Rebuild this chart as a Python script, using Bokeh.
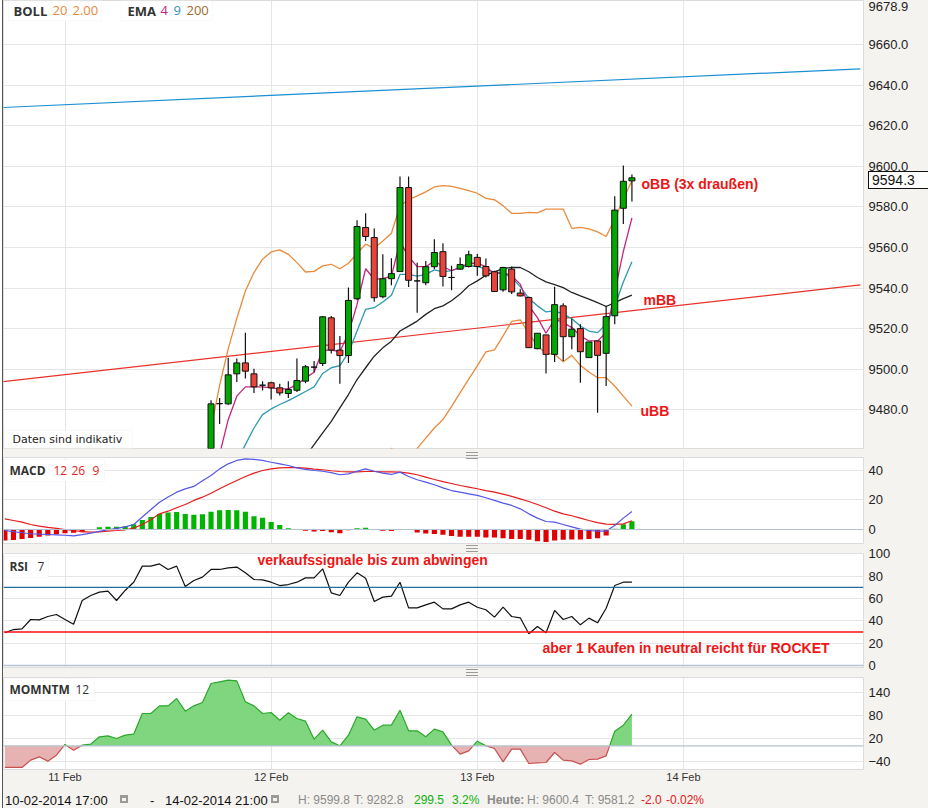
import numpy as np
from bokeh.plotting import figure
from bokeh.layouts import column
from bokeh.models import Range1d, FixedTicker, PrintfTickFormatter, Span, Label, BoxAnnotation, Div
from bokeh.embed import file_html
from bokeh.resources import INLINE

# ---------------- data ----------------
# x = hours since 11-02-2014 00:00 ; the series starts 10-02-2014 17:00 (x = -7)
day_ticks = [0, 24, 48, 72]
day_labels = ["11 Feb", "12 Feb", "13 Feb", "14 Feb"]

# visible hourly candles 11-02 17:00 .. 13-02 18:00
candle_x = list(range(17, 67))
c_open = [9455.0, 9483.0, 9482.9, 9497.7, 9503.1, 9497.7, 9492.1, 9493.3, 9490.8, 9488.0,
          9489.6, 9494.1, 9501.0, 9502.8, 9525.3, 9509.4, 9506.7, 9534.7, 9569.8, 9564.9,
          9535.7, 9544.6, 9548.1, 9589.5, 9543.5, 9542.6, 9550.5, 9557.9, 9545.2, 9549.3,
          9550.6, 9555.1, 9550.6, 9548.0, 9539.1, 9549.3, 9537.5, 9535.3, 9510.1, 9516.9,
          9507.3, 9531.2, 9516.0, 9520.0, 9505.7, 9513.9, 9507.8, 9526.3, 9579.3, 9592.8]
c_high = [9484.7, 9485.8, 9505.6, 9505.3, 9517.9, 9500.2, 9494.0, 9493.8, 9492.8, 9494.0,
          9505.3, 9502.0, 9504.0, 9526.2, 9526.2, 9516.3, 9540.2, 9573.4, 9576.9, 9569.3,
          9556.6, 9554.7, 9595.0, 9595.0, 9552.5, 9553.3, 9564.0, 9562.1, 9551.0, 9555.0,
          9558.4, 9556.7, 9554.6, 9548.5, 9550.5, 9550.6, 9539.4, 9535.8, 9517.7, 9516.9,
          9540.6, 9532.5, 9524.9, 9522.1, 9513.4, 9513.9, 9531.2, 9585.2, 9600.4, 9596.0]
c_low = [9452.0, 9473.0, 9482.5, 9493.7, 9495.4, 9488.3, 9489.5, 9485.0, 9487.0, 9485.8,
         9488.8, 9493.0, 9498.5, 9501.5, 9507.7, 9492.8, 9503.1, 9534.0, 9563.2, 9533.2,
         9535.0, 9541.3, 9548.0, 9540.5, 9527.8, 9541.3, 9549.4, 9540.7, 9538.9, 9549.0,
         9550.1, 9546.0, 9545.2, 9538.3, 9538.1, 9537.0, 9535.8, 9510.6, 9509.8, 9497.9,
         9503.5, 9504.0, 9509.8, 9493.3, 9505.7, 9478.5, 9491.7, 9522.1, 9571.5, 9582.6]
c_close = [9482.9, 9483.0, 9497.2, 9503.1, 9499.0, 9491.3, 9492.1, 9490.8, 9488.3, 9490.0,
           9494.4, 9501.2, 9501.0, 9525.8, 9509.4, 9506.7, 9533.9, 9570.3, 9565.4, 9535.2,
           9544.6, 9547.1, 9589.5, 9543.8, 9543.5, 9550.5, 9557.5, 9545.7, 9545.2, 9551.6,
           9556.4, 9550.6, 9546.0, 9538.3, 9550.1, 9538.1, 9536.1, 9510.6, 9517.7, 9507.3,
           9531.8, 9516.0, 9519.7, 9508.6, 9513.4, 9506.8, 9525.9, 9578.4, 9592.6, 9594.3]
last_price = 9594.3

bb_upper_x = list(range(16, 67))
bb_upper = [9440.0, 9471.0, 9492.0, 9510.0, 9525.0, 9538.5, 9547.6, 9554.2, 9557.8, 9558.8, 9556.6,
            9552.5, 9547.9, 9548.2, 9550.9, 9551.7, 9549.5, 9552.2, 9557.1, 9561.6, 9559.6,
            9563.2, 9567.0, 9580.5, 9583.5, 9585.4, 9587.4, 9589.8, 9590.5, 9590.1, 9589.1,
            9588.0, 9586.7, 9584.2, 9583.5, 9580.6, 9576.8, 9576.8, 9577.3, 9577.0, 9578.9,
            9578.9, 9578.9, 9569.4, 9569.9, 9569.1, 9567.7, 9565.4, 9574.0, 9583.9, 9592.9]
bb_lower_x = list(range(37, 67))
bb_lower = [9455.0, 9461.0, 9457.0, 9456.0, 9461.0, 9466.0, 9471.0, 9475.2, 9481.5, 9488.4,
            9495.1, 9501.6, 9508.5, 9509.5, 9516.4, 9523.5, 9524.3, 9517.7, 9511.4, 9507.8,
            9507.3, 9503.7, 9506.8, 9501.9, 9498.6, 9495.8, 9495.8, 9491.7, 9486.7, 9481.8]
bb_mid_x = list(range(28, 67))
bb_mid = [9457.0, 9462.8, 9468.6, 9474.3, 9480.9, 9487.5, 9494.9, 9500.7, 9506.4, 9510.5,
          9513.8, 9518.8, 9521.2, 9523.7, 9527.0, 9529.8, 9531.2, 9533.7, 9537.0, 9541.1,
          9543.5, 9546.3, 9548.0, 9549.6, 9550.1, 9550.1, 9548.0, 9545.2, 9543.0, 9541.7,
          9540.2, 9537.8, 9536.1, 9534.5, 9532.8, 9530.9, 9532.8, 9534.8, 9536.5]
ema4_x = list(range(18, 67))
ema4 = [9458.0, 9475.1, 9486.7, 9491.3, 9491.3, 9491.3, 9490.8, 9490.3, 9490.3, 9492.4,
        9495.7, 9498.5, 9509.4, 9509.4, 9508.7, 9517.6, 9531.9, 9549.5, 9544.3, 9544.6,
        9545.9, 9562.7, 9555.5, 9550.5, 9550.5, 9553.3, 9550.6, 9548.5, 9550.1, 9552.3,
        9552.1, 9550.6, 9546.8, 9547.7, 9546.0, 9541.9, 9531.2, 9525.4, 9517.7, 9524.6,
        9523.0, 9520.5, 9516.4, 9513.9, 9513.9, 9518.0, 9538.0, 9558.0, 9574.6]
ema9_x = list(range(20, 67))
ema9 = [9455.0, 9462.8, 9471.0, 9477.6, 9480.4, 9482.6, 9484.5, 9486.7, 9489.0, 9491.3,
        9497.9, 9500.7, 9501.8, 9508.1, 9518.8, 9529.5, 9530.3, 9533.1, 9536.4, 9546.7,
        9546.7, 9545.9, 9546.7, 9548.9, 9548.0, 9548.6, 9550.0, 9550.9, 9550.6, 9549.3,
        9547.7, 9547.3, 9545.2, 9540.7, 9534.8, 9531.2, 9528.2, 9528.7, 9527.1, 9524.9,
        9521.3, 9518.8, 9518.0, 9522.1, 9531.0, 9543.0, 9553.0]
trend_x = [-7.5, 92.6]
trend_blue = [9628.9, 9648.0]
trend_red = [9493.7, 9541.5]

# indicators for every hour 10-02 17:00 .. 13-02 18:00
ind_x = list(range(-7, 67))
macd_line = [-0.7, -1.5, -2.2, -2.9, -3.2, -3.4, -3.6, -3.9, -4.3, -3.5,
             -2.5, -1.3, -0.2, 0.8, 1.8, 3.4, 8.5, 13.5, 18.5, 22.0,
             25.3, 27.5, 29.2, 33.0, 36.6, 41.1, 44.5, 46.8, 47.9, 47.5,
             46.8, 45.6, 44.5, 43.4, 41.8, 40.7, 40.0, 39.5, 38.6, 37.1,
             37.7, 39.5, 41.1, 39.5, 38.2, 37.3, 38.9, 35.9, 33.7, 32.1,
             30.3, 28.2, 26.4, 25.3, 24.2, 23.1, 21.5, 19.7, 17.9, 16.3,
             14.0, 10.6, 7.7, 5.4, 5.0, 3.4, 1.8, 0.2, -0.7, -1.1,
             -1.1, 2.7, 7.7, 12.2]
macd_signal = [7.2, 6.1, 5.0, 3.4, 2.3, 1.4, 0.7, 0.0, -0.7, -1.4,
               -1.8, -1.6, -1.1, -0.7, -0.2, 0.9, 3.4, 6.6, 10.6, 12.4,
               14.7, 16.9, 19.7, 21.9, 24.6, 27.6, 30.5, 33.2, 35.9, 38.2,
               40.0, 41.1, 41.8, 42.0, 42.0, 41.6, 40.9, 40.5, 39.8, 39.3,
               39.1, 39.1, 39.3, 39.3, 39.1, 39.1, 38.9, 38.2, 37.1, 35.5,
               33.9, 32.5, 31.2, 29.8, 28.7, 27.6, 26.4, 25.3, 24.0, 22.4,
               20.8, 19.0, 16.9, 14.7, 12.4, 10.6, 9.3, 7.7, 6.1, 4.7,
               3.6, 3.4, 3.8, 5.9]
macd_hist = [-7.5, -7.2, -6.5, -5.8, -5.0, -4.0, -3.2, -2.5, -2.2, -1.8,
             0.3, 1.5, 1.8, 1.8, 2.2, 3.5, 6.5, 8.5, 10.5, 11.5,
             11.8, 10.5, 10.0, 10.3, 12.0, 13.0, 13.2, 13.0, 12.0, 9.0,
             8.0, 5.0, 3.0, 0.8, -0.2, -0.8, -1.3, -1.0, -1.8, -2.5,
             -0.5, 0.8, 1.2, -0.3, -0.8, -1.0, -0.2, 0.2, -2.0, -2.8,
             -3.0, -3.5, -4.5, -5.0, -5.0, -5.0, -5.5, -5.5, -6.0, -6.5,
             -6.5, -7.0, -8.0, -8.5, -7.5, -7.0, -6.8, -6.8, -6.5, -6.0,
             -4.0, 0.5, 3.5, 5.5]
rsi = [29.3, 32.2, 32.8, 41.2, 40.9, 43.9, 45.7, 41.2, 37.0, 58.2,
       62.7, 65.7, 66.6, 58.2, 67.2, 74.6, 89.0, 89.0, 91.0, 86.0,
       89.0, 70.7, 76.1, 79.1, 86.0, 86.0, 87.5, 88.1, 83.0, 77.0,
       76.7, 74.6, 71.6, 72.5, 74.6, 78.5, 78.5, 86.6, 65.1, 62.7,
       74.6, 83.0, 78.2, 57.3, 61.2, 62.1, 74.6, 51.6, 51.6, 54.3,
       56.7, 50.7, 50.7, 54.3, 56.7, 52.2, 49.9, 43.3, 52.2, 43.9,
       42.7, 28.4, 34.9, 29.3, 49.3, 41.2, 43.9, 36.4, 42.4, 38.2,
       51.3, 71.6, 74.6, 74.6]
rsi_upper, rsi_lower = 70, 30
momentum = [-56.3, -56.3, -56.3, -37.2, -28.5, -39.8, -24.2, 3.7, -11.1, 1.9,
            4.5, 23.7, 26.3, 19.3, 28.0, 30.6, 84.5, 84.5, 104.5, 104.5,
            123.7, 90.6, 104.5, 113.2, 162.8, 167.1, 171.5, 169.7, 115.0, 104.5,
            84.5, 87.1, 67.1, 86.3, 71.5, 64.5, 17.6, 41.0, 10.6, 0.2,
            28.0, 75.8, 69.7, 41.0, 54.1, 54.1, 93.2, 39.3, 39.3, 23.7,
            43.7, 36.7, 1.9, -21.6, -12.9, 12.3, 0.2, -6.8, -41.6, -8.5,
            -8.5, -45.9, -44.2, -43.3, -17.2, -37.2, -39.0, -47.7, -35.5, -34.6,
            -25.9, 38.4, 54.1, 82.8]

# ---------------- styling helpers ----------------
BG = "#f5f3ef"
GRID = "#e6e6e6"
ZERO = "#b4c3d2"
AX_FONT = "Liberation Sans"
RED_TXT = "#ee1515"
W = 925
xr = Range1d(-7.16, 92.96)


def hx(px):  # page pixel x -> hours
    return (px - 64.5) / 8.59


def make_fig(height, yr, top, bottom, xaxis=None):
    f = figure(width=W, height=height, x_range=xr, y_range=yr,
               x_axis_location=xaxis, y_axis_location="right",
               toolbar_location=None, output_backend="svg",
               min_border_left=0, min_border_right=65,
               min_border_top=top, min_border_bottom=bottom,
               background_fill_color="white", border_fill_color=BG,
               outline_line_color="#dcdcdc")
    f.xgrid.ticker = FixedTicker(ticks=day_ticks)
    f.grid.grid_line_color = GRID
    ax = f.yaxis[0]
    ax.axis_line_color = None
    ax.major_tick_line_color = None
    ax.minor_tick_line_color = None
    ax.major_tick_out = 0
    ax.major_tick_in = 0
    ax.minor_tick_out = 0
    ax.major_label_text_font = AX_FONT
    ax.major_label_text_font_size = "13px"
    ax.major_label_text_color = "#222222"
    ax.major_label_standoff = 5
    return f


def lab(f, x, y, text, color, size="13px", bold=False, font="Open Sans", **kw):
    f.add_layout(Label(x=x, y=y, text=text, text_color=color, text_font=font,
                       text_font_size=size, text_font_style="bold" if bold else "normal",
                       text_baseline="middle", text_align="left", **kw))


# ---------------- main price panel ----------------
def vy(py):
    return 9600 - (py - 165.7) / 2.03


p1 = make_fig(452, Range1d(9460.9, 9681.7), 0, 4)
p1.yaxis.ticker = FixedTicker(ticks=[9480, 9500, 9520, 9540, 9560, 9580, 9600, 9620, 9640, 9660, 9678.9])
p1.yaxis.formatter = PrintfTickFormatter(format="%.1f")
p1.ygrid.ticker = FixedTicker(ticks=[9480, 9500, 9520, 9540, 9560, 9580, 9600, 9620, 9640, 9660])

p1.line(trend_x, trend_blue, line_color="#1b8fd2", line_width=1.2)
p1.line(trend_x, trend_red, line_color="#e8322a", line_width=1.2)
p1.line(bb_upper_x, bb_upper, line_color="#e98a3c", line_width=1.3)
p1.line(bb_lower_x, bb_lower, line_color="#e98a3c", line_width=1.3)
p1.line(bb_mid_x, bb_mid, line_color="#222222", line_width=1.3)
p1.line(ema9_x, ema9, line_color="#2b9ab0", line_width=1.3)
p1.line(ema4_x, ema4, line_color="#c4267f", line_width=1.3)

c_colors = ["#00a800" if c >= o else "#e8443a" for o, c in zip(c_open, c_close)]
p1.segment(x0=candle_x, y0=c_low, x1=candle_x, y1=c_high, line_color="#111111", line_width=1.2)
p1.vbar(x=candle_x, width=0.7, top=[max(o, c) for o, c in zip(c_open, c_close)],
        bottom=[min(o, c) for o, c in zip(c_open, c_close)],
        fill_color=c_colors, line_color="#111111", line_width=1)

lab(p1, hx(641), vy(183), "oBB (3x draußen)", RED_TXT, "14px", True, AX_FONT)
lab(p1, hx(643), vy(299), "mBB", RED_TXT, "14px", True, AX_FONT)
lab(p1, hx(640), vy(411), "uBB", RED_TXT, "14px", True, AX_FONT)

# legend boxes
p1.add_layout(BoxAnnotation(left=hx(8), right=hx(101), top=vy(0), bottom=vy(20),
                            fill_color="white", fill_alpha=1, line_color="#ececec"))
p1.add_layout(BoxAnnotation(left=hx(121), right=hx(212), top=vy(0), bottom=vy(20),
                            fill_color="white", fill_alpha=1, line_color="#ececec"))
lab(p1, hx(13), vy(10), "BOLL", "#333333", bold=True)
lab(p1, hx(52), vy(10), "20", "#e98a3c")
lab(p1, hx(72), vy(10), "2.00", "#e98a3c")
lab(p1, hx(127), vy(10), "EMA", "#333333", bold=True)
lab(p1, hx(160), vy(10), "4", "#c4267f")
lab(p1, hx(173), vy(10), "9", "#2b9ab0")
lab(p1, hx(186), vy(10), "200", "#9a6b2a")

p1.add_layout(BoxAnnotation(left=hx(4), right=hx(132), top=vy(430), bottom=vy(448),
                            fill_color="white", fill_alpha=1, line_color="#ececec"))
lab(p1, hx(12), vy(439), "Daten sind indikativ", "#222222", "11px", False, "DejaVu Sans")

# ---------------- MACD ----------------
def my(py):
    return (529 - py) / 1.475


p2 = make_fig(94, Range1d(-9.5, 48.8), 5, 3)
p2.yaxis.ticker = FixedTicker(ticks=[0, 20, 40])
p2.ygrid.ticker = FixedTicker(ticks=[20, 40])
p2.add_layout(Span(location=0, dimension="width", line_color=ZERO, line_width=1.2))
hist_colors = ["#00b400" if h >= 0 else "#e00000" for h in macd_hist]
p2.vbar(x=ind_x, width=0.6, top=macd_hist, bottom=0, fill_color=hist_colors, line_color=None)
p2.line(ind_x, macd_signal, line_color="#e51c1c", line_width=1.2)
p2.line(ind_x, macd_line, line_color="#5555e8", line_width=1.2)
p2.add_layout(BoxAnnotation(left=hx(4), right=hx(104), top=my(459), bottom=my(481),
                            fill_color="white", fill_alpha=1, line_color="#ececec"))
lab(p2, hx(9), my(470), "MACD", "#333333", "12px", True)
lab(p2, hx(53), my(470), "12", "#e51c1c", "12px")
lab(p2, hx(71), my(470), "26", "#e51c1c", "12px")
lab(p2, hx(92), my(470), "9", "#e51c1c", "12px")

# ---------------- RSI ----------------
def ry(py):
    return (665 - py) / 1.117


p3 = make_fig(126, Range1d(-1.8, 100.3), 7, 5)
p3.yaxis.ticker = FixedTicker(ticks=[0, 20, 40, 60, 80, 100])
p3.ygrid.ticker = FixedTicker(ticks=[20, 40, 60, 80, 100])
p3.add_layout(Span(location=0, dimension="width", line_color=ZERO, line_width=1.5))
p3.add_layout(Span(location=rsi_upper, dimension="width", line_color="#1f6f9f", line_width=1.4))
p3.add_layout(Span(location=rsi_lower, dimension="width", line_color="#ff1010", line_width=1.4))
p3.line(ind_x, rsi, line_color="#111111", line_width=1.2)
p3.add_layout(BoxAnnotation(left=hx(4), right=hx(48), top=ry(556), bottom=ry(577),
                            fill_color="white", fill_alpha=1, line_color="#ececec"))
lab(p3, hx(9), ry(566), "RSI", "#333333", "12px", True)
lab(p3, hx(37), ry(566), "7", "#333333", "12px")
lab(p3, hx(257), ry(559), "verkaufssignale bis zum abwingen", RED_TXT, "14px", True, AX_FONT)
lab(p3, hx(542), ry(648), "aber 1 Kaufen in neutral reicht für ROCKET", RED_TXT, "14px", True, AX_FONT)

# ---------------- Momentum ----------------
def qy(py):
    return (745.4 - py) / 0.3833


p4 = make_fig(117, Range1d(-61.6, 178.5), 5, 20, xaxis="below")
p4.yaxis.ticker = FixedTicker(ticks=[-40, 20, 80, 140])
p4.ygrid.ticker = FixedTicker(ticks=[-40, 20, 80, 140])
xa = p4.xaxis[0]
xa.ticker = FixedTicker(ticks=day_ticks)
xa.major_label_overrides = dict(zip(day_ticks, day_labels))
xa.axis_line_color = None
xa.major_tick_line_color = None
xa.minor_tick_line_color = None
xa.major_tick_out = 0
xa.major_tick_in = 0
xa.minor_tick_out = 0
xa.major_label_text_font = AX_FONT
xa.major_label_text_font_size = "11px"
xa.major_label_text_color = "#333333"
xa.major_label_standoff = 1

# insert zero crossings so the two fill colours meet exactly on the baseline
mx, mv = [ind_x[0]], [momentum[0]]
for k in range(1, len(ind_x)):
    a, b = momentum[k - 1], momentum[k]
    if a * b < 0:
        t = a / (a - b)
        mx.append(ind_x[k - 1] + t * (ind_x[k] - ind_x[k - 1]))
        mv.append(0.0)
    mx.append(ind_x[k])
    mv.append(b)
mx = np.array(mx, dtype=float)
mv = np.array(mv, dtype=float)
p4.varea(x=mx, y1=0, y2=np.where(mv > 0, mv, 0), fill_color="#7fd67f")
p4.varea(x=mx, y1=0, y2=np.where(mv < 0, mv, 0), fill_color="#e6b2b2")
p4.add_layout(Span(location=0, dimension="width", line_color=ZERO, line_width=1.2))
p4.line(mx, np.where(mv >= 0, mv, np.nan), line_color="#2aa82a", line_width=1.2)
p4.line(mx, np.where(mv <= 0, mv, np.nan), line_color="#c85050", line_width=1.2)
p4.add_layout(BoxAnnotation(left=hx(4), right=hx(94), top=qy(678), bottom=qy(700),
                            fill_color="white", fill_alpha=1, line_color="#ececec"))
lab(p4, hx(9), qy(689), "MOMNTM", "#333333", "12px", True)
lab(p4, hx(75), qy(689), "12", "#333333", "12px")

# ---------------- bottom info bar ----------------
pieces = [
    (0, "10-02-2014 17:00", "#111111", "normal", 13),
    (145, "-", "#111111", "normal", 13),
    (160, "14-02-2014 21:00", "#111111", "normal", 13),
    (293, "H: 9599.8", "#8a8a8a", "normal", 12),
    (349, "T: 9282.8", "#8a8a8a", "normal", 12),
    (409, "299.5", "#10b010", "normal", 12),
    (447, "3.2%", "#10b010", "normal", 12),
    (482, "Heute:", "#8a8a8a", "bold", 12),
    (522, "H: 9600.4", "#8a8a8a", "normal", 12),
    (580, "T: 9581.2", "#8a8a8a", "normal", 12),
    (636, "-2.0", "#e02020", "normal", 12),
    (661, "-0.02%", "#e02020", "normal", 12),
]
html = ['<div style="position:relative;width:925px;height:19px;font-family:\'Liberation Sans\',Arial,sans-serif;">']
for px, t, col, wt, fs in pieces:
    html.append(f'<span style="position:absolute;left:{px - 3}px;top:0px;line-height:13px;'
                f'white-space:nowrap;color:{col};font-weight:{wt};font-size:{fs}px;">{t}</span>')
for px in (115, 266):
    html.append(f'<span style="position:absolute;left:{px - 3}px;top:1px;width:8px;height:8px;'
                'border:2px solid #9a9a9a;border-top-width:3px;"></span>')
html.append('</div>')
bar = Div(text="".join(html), width=W, height=19, styles={"background-color": BG})

# last-price marker on the price axis
price_box = Div(text=f"{last_price:.1f}", width=64, height=18,
                styles={"position": "absolute", "left": "860px", "top": "166px",
                        "background-color": "white", "border": "1px solid #111111",
                        "font-family": "'Liberation Sans', Arial, sans-serif",
                        "font-size": "14px", "line-height": "16px", "color": "#111111",
                        "padding-left": "3px", "box-sizing": "border-box"})

# pane resize grips between the panels
grip_html = ('<div style="width:12px;height:1px;background:#9a9a9a;margin-bottom:2px"></div>'
             '<div style="width:12px;height:1px;background:#9a9a9a;margin-bottom:2px"></div>'
             '<div style="width:12px;height:1px;background:#9a9a9a"></div>')
grips = [Div(text=grip_html, width=12, height=7,
             styles={"position": "absolute", "left": "458px", "top": f"{gy}px"})
         for gy in (442, 535, 659)]

layout = column(p1, p2, p3, p4, bar, price_box, *grips, spacing=0,
                styles={"margin": "0 0 0 3px", "box-shadow": "-1px 0 0 #555555",
                        "background-color": BG, "position": "relative"})

open("out.html", "w").write(file_html(layout, INLINE))
